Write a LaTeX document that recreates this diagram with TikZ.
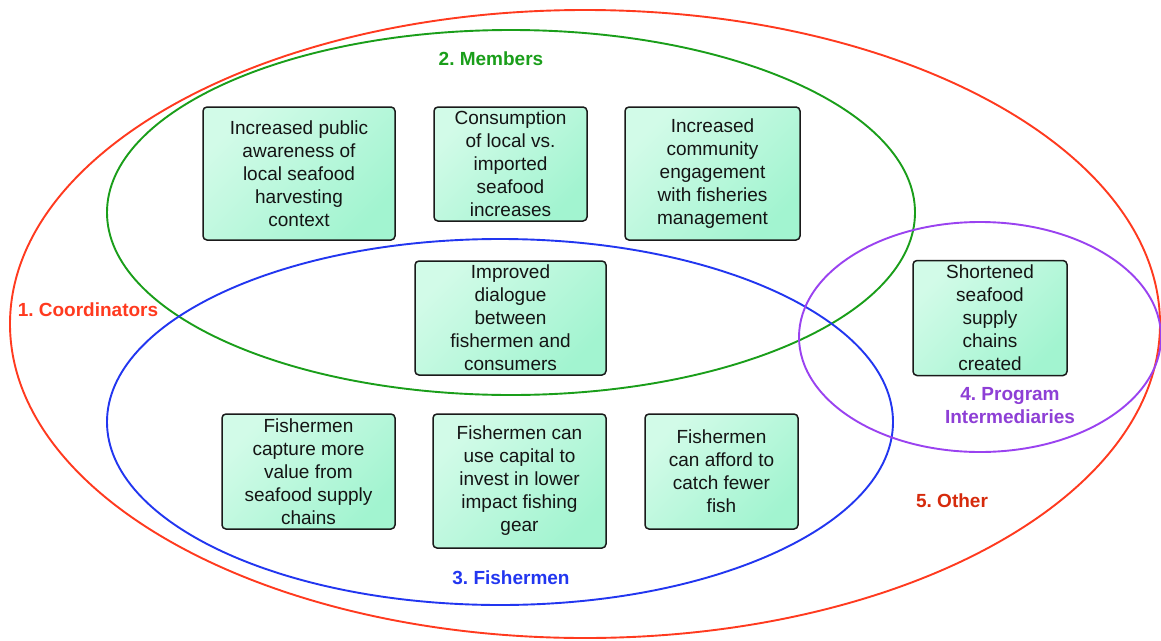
\documentclass[tikz,border=0pt]{standalone}
\usepackage{fontspec}
\setmainfont{Liberation Sans}
\usetikzlibrary{shapes.geometric}
\frenchspacing
\definecolor{cRed}{HTML}{FF3A1F}
\definecolor{cRedDark}{HTML}{D62A0C}
\definecolor{cGreen}{HTML}{1A9E1A}
\definecolor{cBlue}{HTML}{2236F0}
\definecolor{cPurple}{HTML}{9A42F0}
\definecolor{cPurpleText}{HTML}{8E3FD6}
\definecolor{mintA}{HTML}{D2FBE8}
\definecolor{mintB}{HTML}{A2F4D0}
\definecolor{boxline}{HTML}{1A1A1A}
\tikzset{
  ring/.style={ellipse, draw=#1, line width=1.9pt, inner sep=0pt, fill=none},
  outcome/.style={rectangle, rounded corners=4pt, draw=boxline, line width=1.5pt,
    top color=mintA, bottom color=mintB, shading angle=45, align=center,
    inner sep=0pt, text=black!92, font=\fontsize{19}{23}\selectfont},
  grouplabel/.style={font=\bfseries\fontsize{19}{23}\selectfont, align=center, text=#1},
}
\begin{document}
\begin{tikzpicture}[x=1pt,y=-1pt]
\useasboundingbox (0,0) rectangle (1161,640);
\fill[white] (0,0) rectangle (1161,640);
% rings
\node[ring=cRed, minimum width=1150pt, minimum height=628pt] (other) at (585,324) {};
\node[ring=cGreen, minimum width=808pt, minimum height=365pt] (members) at (511,212.5) {};
\node[ring=cBlue, minimum width=786pt, minimum height=366pt] (fishers) at (500,422) {};
\node[ring=cPurple, minimum width=362pt, minimum height=230pt] (inter) at (980,337) {};
% outcome boxes
\node[outcome, minimum width=192pt, minimum height=133pt] (b1) at (299,173.5)
  {Increased public\\awareness of\\local seafood\\harvesting\\context};
\node[outcome, minimum width=153pt, minimum height=114pt] (b2) at (510.5,164)
  {Consumption\\of local vs.\\imported\\seafood\\increases};
\node[outcome, minimum width=175pt, minimum height=133pt] (b3) at (712.5,173.5)
  {Increased\\community\\engagement\\with fisheries\\management};
\node[outcome, minimum width=191pt, minimum height=114pt] (b4) at (510.5,318)
  {Improved\\dialogue\\between\\fishermen and\\consumers};
\node[outcome, minimum width=154pt, minimum height=115pt] (b5) at (990,318)
  {Shortened\\seafood\\supply\\chains\\created};
\node[outcome, minimum width=173pt, minimum height=115pt] (b6) at (308.5,471.5)
  {Fishermen\\capture more\\value from\\seafood supply\\chains};
\node[outcome, minimum width=173pt, minimum height=134pt] (b7) at (519.5,481)
  {Fishermen can\\use capital to\\invest in lower\\impact fishing\\gear};
\node[outcome, minimum width=153pt, minimum height=115pt] (b8) at (721.5,471.5)
  {Fishermen\\can afford to\\catch fewer\\fish};
% group labels
\node[grouplabel=cGreen] (lmem) at (491,59) {2. Members};
\node[grouplabel=cRed] (lcoord) at (88,310) {1. Coordinators};
\node[grouplabel=cBlue] (lfish) at (511,578) {3. Fishermen};
\node[grouplabel=cPurpleText] (linter) at (1010,406) {4. Program\\Intermediaries};
\node[grouplabel=cRedDark] (lother) at (952,501) {5. Other};
\end{tikzpicture}
\end{document}
